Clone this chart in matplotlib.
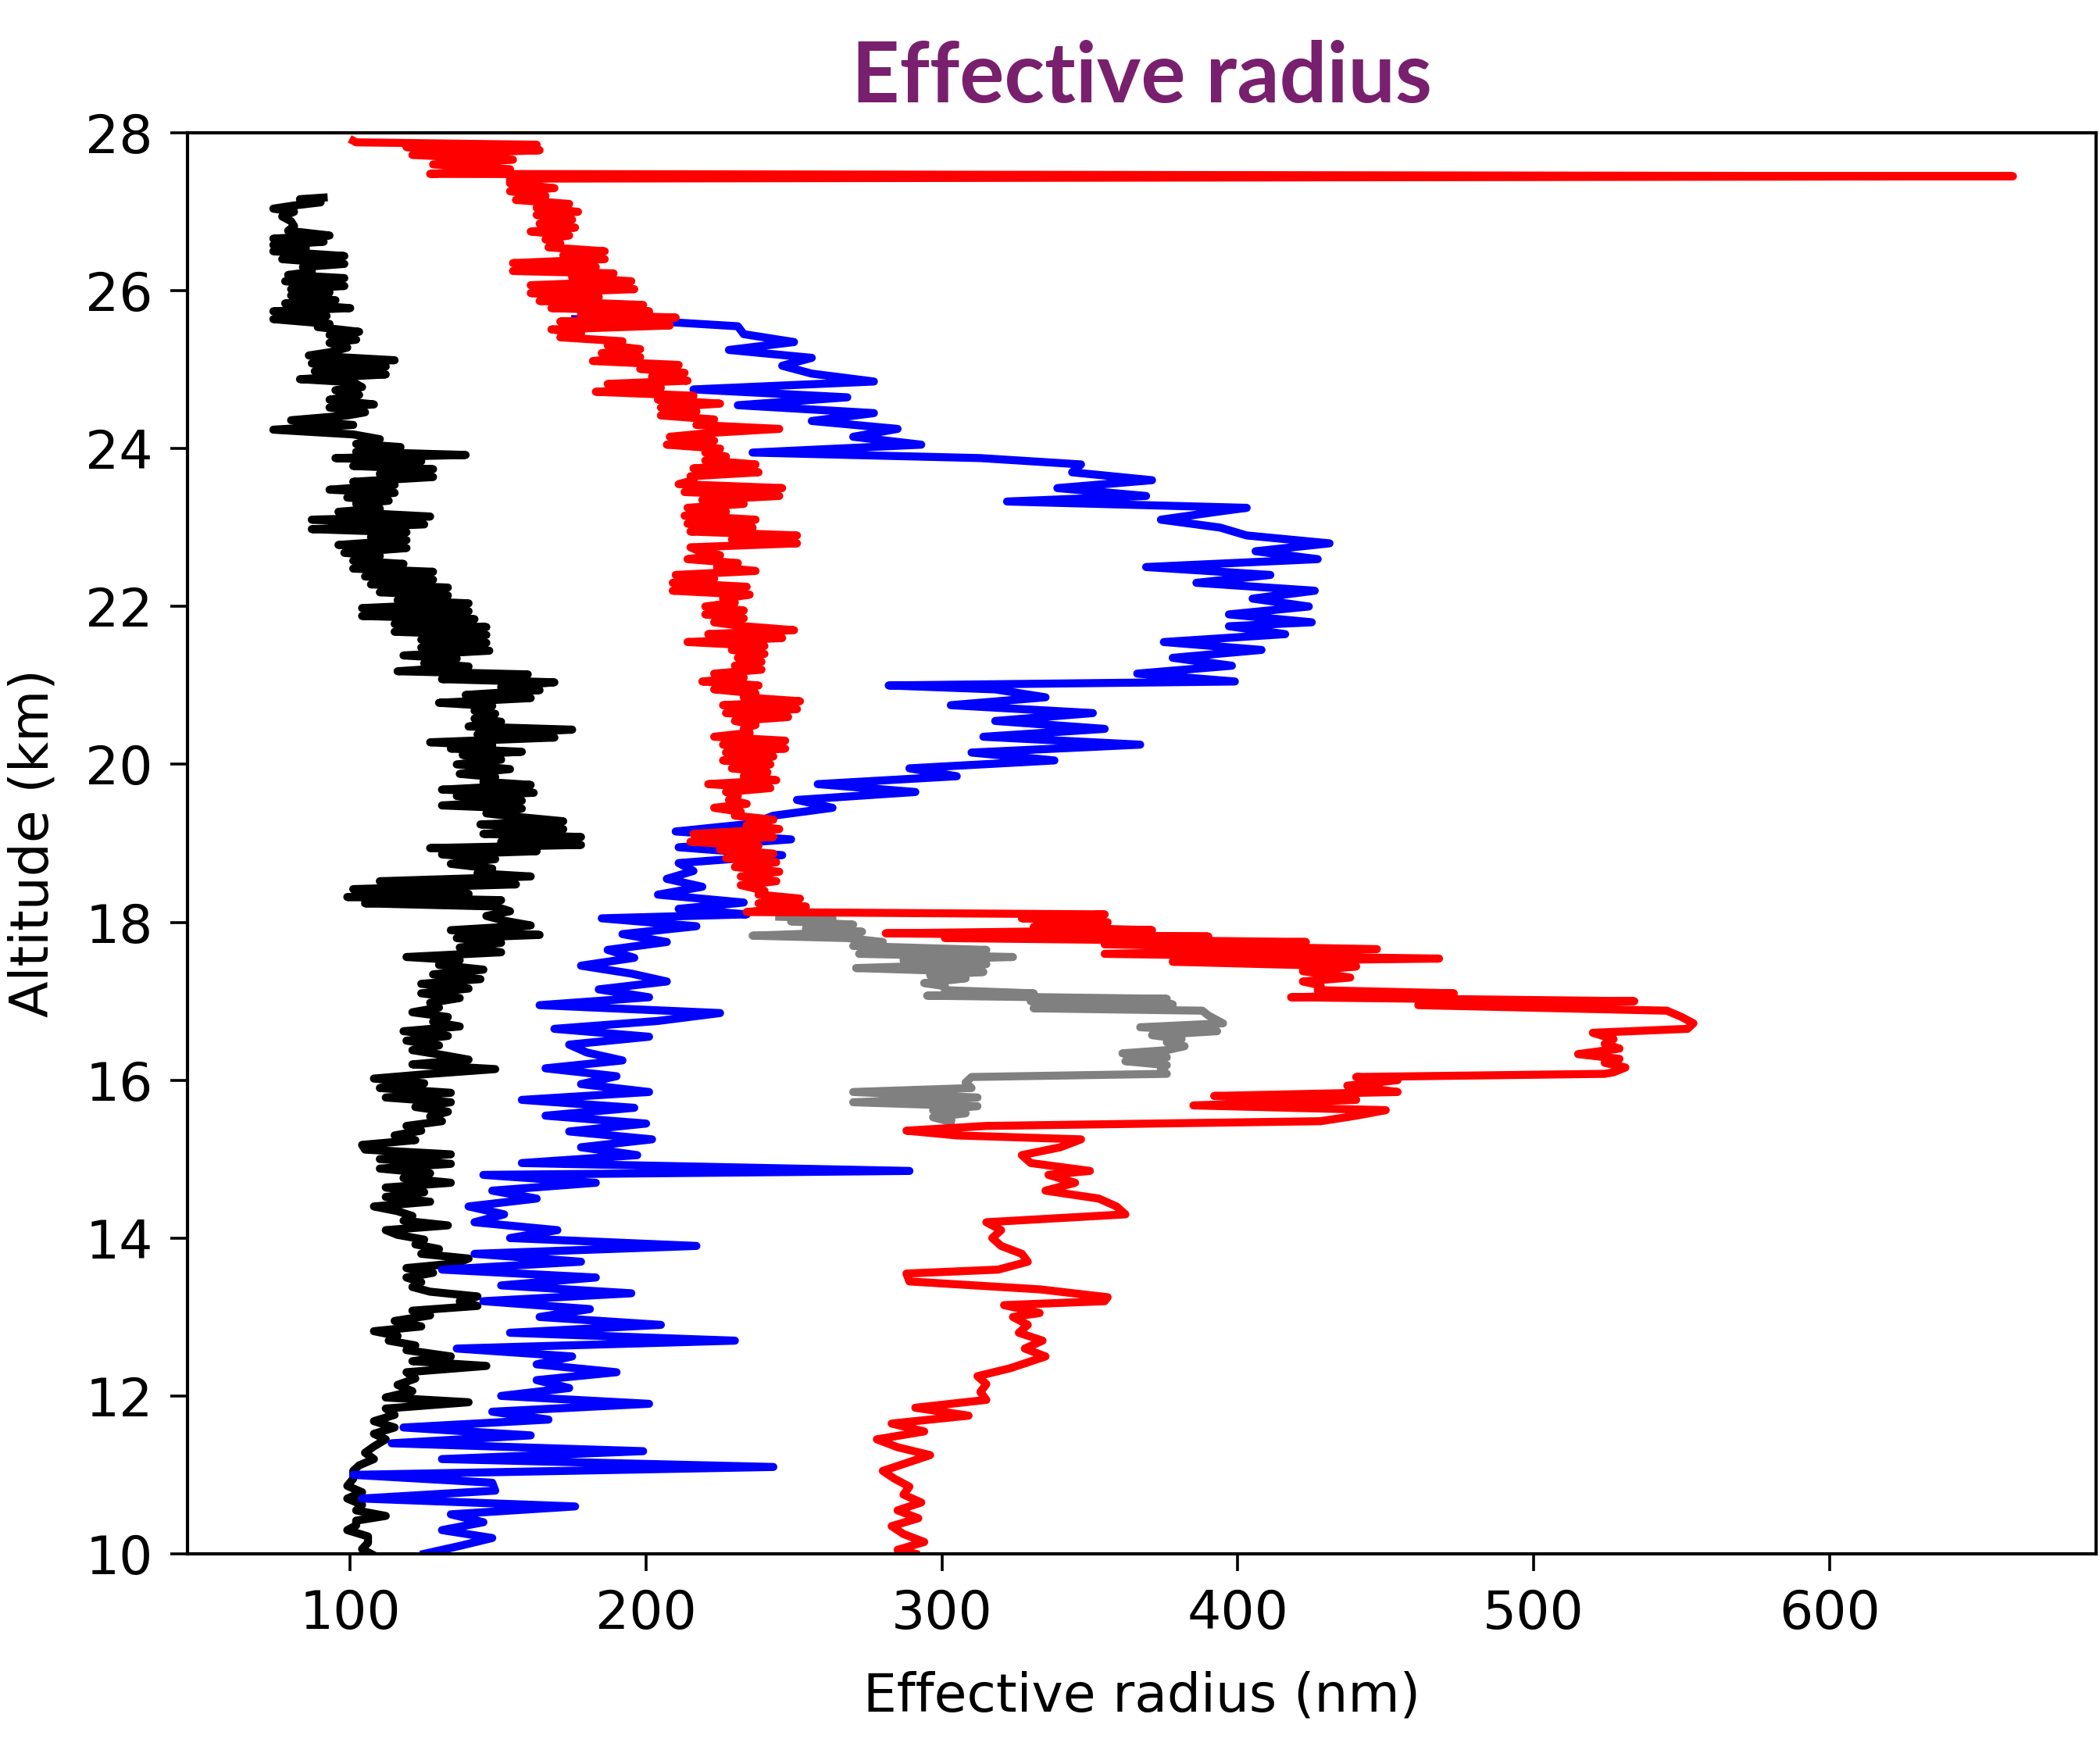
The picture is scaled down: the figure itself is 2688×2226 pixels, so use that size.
import matplotlib
matplotlib.use('Agg')
import matplotlib.pyplot as plt

# altitude (km) and effective radius (nm)
black_alt = [10.0, 10.06, 10.14, 10.22, 10.3, 10.36, 10.42, 10.48, 10.55, 10.62, 10.7, 10.78, 10.86, 10.95,
             11.05, 11.12, 11.2, 11.28, 11.36, 11.45, 11.52, 11.6, 11.68, 11.76, 11.84, 11.92, 11.98,
             12.06, 12.14, 12.22, 12.3, 12.38, 12.44, 12.5, 12.58, 12.64, 12.7, 12.76, 12.82, 12.88, 12.95,
             13.02, 13.08, 13.14, 13.2, 13.26, 13.32, 13.38, 13.44, 13.5, 13.56, 13.62, 13.68, 13.74, 13.8,
             13.86, 13.92, 13.98, 14.04, 14.1, 14.16, 14.22, 14.28, 14.34, 14.4, 14.46, 14.52, 14.58, 14.64,
             14.7, 14.76, 14.82, 14.88, 14.94, 15.0, 15.06, 15.12, 15.18, 15.24, 15.3, 15.36, 15.42, 15.48,
             15.54, 15.6, 15.66, 15.72, 15.78, 15.84, 15.9, 15.96, 16.02, 16.08, 16.14, 16.2, 16.26, 16.32,
             16.38, 16.44, 16.5, 16.56, 16.62, 16.68, 16.74, 16.8, 16.86, 16.92, 16.98, 17.04, 17.1, 17.16,
             17.22, 17.28, 17.34, 17.4, 17.46, 17.52, 17.56, 17.62, 17.68, 17.74, 17.8, 17.84, 17.9, 17.96,
             18.02, 18.08, 18.14, 18.2, 18.24, 18.28, 18.32, 18.36, 18.42, 18.48, 18.52, 18.58, 18.62, 18.68,
             18.74, 18.8, 18.86, 18.9, 18.94, 18.98, 19.02, 19.08, 19.12, 19.18, 19.24, 19.28, 19.34, 19.38,
             19.44, 19.48, 19.54, 19.6, 19.64, 19.68, 19.74, 19.78, 19.84, 19.88, 19.94, 20.0, 20.06, 20.12,
             20.16, 20.2, 20.24, 20.28, 20.34, 20.38, 20.44, 20.48, 20.54, 20.58, 20.64, 20.68, 20.74, 20.78,
             20.84, 20.88, 20.94, 20.98, 21.04, 21.08, 21.14, 21.18, 21.24, 21.28, 21.34, 21.38, 21.44, 21.48,
             21.54, 21.58, 21.64, 21.68, 21.74, 21.78, 21.84, 21.88, 21.94, 21.98, 22.04, 22.08, 22.14, 22.18,
             22.24, 22.28, 22.34, 22.38, 22.44, 22.48, 22.54, 22.58, 22.64, 22.68, 22.74, 22.78, 22.84, 22.88,
             22.94, 22.98, 23.04, 23.1, 23.14, 23.2, 23.24, 23.3, 23.34, 23.38, 23.44, 23.48, 23.54, 23.58,
             23.64, 23.68, 23.74, 23.78, 23.84, 23.88, 23.92, 23.96, 24.02, 24.06, 24.12, 24.18, 24.24, 24.3,
             24.36, 24.42, 24.46, 24.52, 24.56, 24.62, 24.68, 24.74, 24.78, 24.84, 24.88, 24.94, 24.98, 25.04,
             25.08, 25.12, 25.18, 25.22, 25.28, 25.34, 25.38, 25.44, 25.48, 25.54, 25.58, 25.64, 25.68, 25.74,
             25.78, 25.84, 25.88, 25.94, 25.98, 26.02, 26.06, 26.12, 26.16, 26.2, 26.24, 26.3, 26.34, 26.4,
             26.44, 26.5, 26.54, 26.58, 26.62, 26.66, 26.7, 26.76, 26.82, 26.88, 26.94, 27.0, 27.04, 27.08,
             27.12, 27.16, 27.18]
black_r = [107, 104, 106, 106, 99, 102, 102, 112, 102, 104, 99, 104, 99, 101,
           101, 103, 108, 105, 108, 112, 108, 115, 108, 115, 112, 140, 112,
           121, 116, 122, 119, 146, 121, 134, 119, 122, 113, 116, 108, 124, 115,
           127, 121, 143, 137, 143, 127, 121, 124, 119, 128, 119, 136, 140, 124,
           130, 122, 125, 116, 112, 133, 118, 121, 116, 108, 127, 112, 125, 112,
           134, 118, 127, 110, 134, 110, 134, 105, 104, 122, 115, 124, 119, 131,
           127, 133, 122, 134, 112, 134, 110, 125, 108, 127, 149, 121, 140, 131,
           121, 130, 119, 133, 118, 137, 128, 133, 121, 130, 127, 137, 124, 140,
           124, 144, 128, 145, 130, 137, 119, 151, 137, 151, 136, 164, 134, 161,
           152, 146, 154, 149, 105, 151, 99, 140, 101, 156, 110, 161, 143, 148,
           134, 149, 131, 163, 127, 178, 151, 178, 145, 172, 144, 172, 155, 146,
           158, 131, 158, 136, 162, 131, 161, 145, 149, 137, 154, 136, 151, 138,
           158, 134, 148, 127, 169, 143, 175, 140, 151, 142, 149, 142, 148, 130,
           161, 139, 164, 151, 169, 131, 160, 116, 140, 125, 136, 118, 147, 124,
           146, 124, 146, 115, 146, 115, 142, 104, 140, 104, 140, 116, 133, 110,
           133, 107, 128, 105, 128, 101, 118, 101, 110, 98, 119, 96, 119, 107,
           119, 87, 125, 87, 127, 96, 110, 102, 113, 99, 115, 93, 115, 101,
           128, 110, 128, 101, 124, 95, 139, 102, 117, 102, 110, 101, 74, 101,
           80, 99, 105, 93, 108, 93, 103, 95, 104, 101, 83, 112, 88, 112,
           87, 115, 86, 93, 99, 93, 102, 93, 103, 89, 93, 74, 92, 74,
           100, 78, 95, 80, 93, 80, 98, 78, 98, 79, 87, 84, 98, 77,
           98, 74, 85, 74, 91, 74, 93, 79, 81, 80, 77, 81, 74, 81,
           90, 83, 91]

blue_alt = [10.0, 10.1, 10.2, 10.3, 10.4, 10.5, 10.6, 10.7, 10.8, 10.9, 11.0, 11.1, 11.2, 11.3, 11.4,
            11.5, 11.6, 11.7, 11.8, 11.9, 12.0, 12.1, 12.2, 12.3, 12.4, 12.5, 12.6, 12.7, 12.8, 12.9,
            13.0, 13.1, 13.2, 13.3, 13.4, 13.5, 13.6, 13.7, 13.8, 13.9, 14.0, 14.1, 14.2, 14.3, 14.4,
            14.5, 14.6, 14.7, 14.8, 14.85, 14.95, 15.05, 15.15, 15.25, 15.35, 15.45, 15.55, 15.65, 15.75,
            15.85, 15.95, 16.05, 16.15, 16.25, 16.35, 16.45, 16.55, 16.65, 16.75, 16.85, 16.95, 17.05,
            17.15, 17.25, 17.35, 17.45, 17.55, 17.65, 17.75, 17.85, 17.95, 18.05, 18.1, 18.17, 18.25,
            18.35, 18.45, 18.55, 18.65, 18.75, 18.85, 18.95, 19.05, 19.15, 19.25, 19.35, 19.45, 19.55,
            19.65, 19.75, 19.85, 19.95, 20.05, 20.15, 20.25, 20.35, 20.45, 20.55, 20.65, 20.75, 20.85,
            20.95, 21.0, 21.05, 21.15, 21.25, 21.35, 21.45, 21.55, 21.65, 21.75, 21.8, 21.9, 22.0, 22.1,
            22.2, 22.3, 22.4, 22.5, 22.6, 22.7, 22.8, 22.9, 23.0, 23.1, 23.2, 23.25, 23.33, 23.4, 23.5,
            23.6, 23.7, 23.8, 23.88, 23.95, 24.05, 24.15, 24.25, 24.35, 24.45, 24.55, 24.65, 24.75,
            24.85, 24.95, 25.05, 25.15, 25.25, 25.35, 25.45, 25.55, 25.6, 25.64]
blue_r = [125, 137, 148, 131, 145, 134, 176, 104, 149, 148, 101, 243, 131, 199, 114,
          161, 118, 167, 148, 201, 151, 174, 163, 190, 163, 175, 136, 230, 154, 205,
          164, 181, 145, 195, 151, 183, 131, 178, 142, 217, 154, 170, 142, 152, 140,
          163, 148, 183, 145, 289, 158, 197, 178, 202, 174, 200, 166, 196, 158,
          201, 178, 190, 166, 192, 180, 174, 201, 169, 204, 225, 164, 201,
          184, 207, 195, 178, 196, 187, 207, 192, 217, 185, 234, 211, 233,
          204, 219, 207, 216, 211, 246, 211, 249, 210, 236, 243, 263, 251,
          291, 258, 305, 289, 338, 310, 367, 314, 355, 318, 351, 303, 335,
          318, 282, 399, 366, 398, 378, 408, 375, 416, 397, 425, 397, 424, 405,
          426, 386, 411, 369, 427, 406, 431, 403, 394, 374, 393, 403, 322, 369, 339,
          371, 344, 347, 313, 236, 293, 270, 285, 256, 277, 231, 268, 216,
          277, 256, 246, 256, 228, 250, 233, 231, 209, 176]

red_alt = [10.0, 10.05, 10.15, 10.25, 10.35, 10.45, 10.55, 10.65, 10.75, 10.85, 10.95, 11.05, 11.15,
           11.25, 11.35, 11.45, 11.55, 11.65, 11.75, 11.85, 11.95, 12.05, 12.15, 12.25, 12.35, 12.5,
           12.6, 12.7, 12.8, 12.9, 13.0, 13.05, 13.15, 13.2, 13.25, 13.35, 13.45, 13.55, 13.6, 13.7,
           13.8, 13.9, 14.0, 14.1, 14.2, 14.3, 14.4, 14.5, 14.6, 14.7, 14.8, 14.85, 14.95, 15.05, 15.15,
           15.25, 15.3, 15.36, 15.42, 15.48, 15.55, 15.62, 15.68, 15.75, 15.8, 15.85, 15.93, 16.0, 16.04,
           16.08, 16.1, 16.16, 16.22, 16.27, 16.33, 16.4, 16.46, 16.52, 16.6, 16.65, 16.72, 16.8, 16.88,
           16.95, 17.0, 17.05, 17.1, 17.14, 17.2, 17.25, 17.3, 17.38, 17.44, 17.5, 17.54, 17.6, 17.66,
           17.72, 17.75, 17.8, 17.82, 17.86, 17.9, 17.94, 18.0, 18.05, 18.1, 18.13, 18.2, 18.24, 18.3,
           18.35, 18.4, 18.47, 18.52, 18.58, 18.64, 18.7, 18.76, 18.81, 18.87, 18.92, 18.97, 19.02,
           19.08, 19.12, 19.18, 19.23, 19.3, 19.35, 19.4, 19.45, 19.5, 19.55, 19.6, 19.65, 19.7, 19.75,
           19.8, 19.85, 19.9, 19.95, 20.0, 20.05, 20.1, 20.15, 20.2, 20.25, 20.3, 20.35, 20.4, 20.45,
           20.5, 20.55, 20.6, 20.65, 20.7, 20.75, 20.8, 20.85, 20.9, 20.95, 21.0, 21.05, 21.1, 21.15,
           21.2, 21.25, 21.3, 21.35, 21.4, 21.45, 21.5, 21.55, 21.6, 21.65, 21.7, 21.75, 21.8, 21.85,
           21.9, 21.95, 22.0, 22.05, 22.1, 22.15, 22.2, 22.25, 22.3, 22.35, 22.4, 22.45, 22.5, 22.55,
           22.6, 22.65, 22.7, 22.75, 22.8, 22.85, 22.9, 22.95, 23.0, 23.05, 23.1, 23.15, 23.2, 23.25,
           23.3, 23.35, 23.4, 23.45, 23.5, 23.55, 23.6, 23.65, 23.7, 23.75, 23.8, 23.85, 23.9, 23.95,
           24.0, 24.05, 24.1, 24.15, 24.2, 24.25, 24.3, 24.37, 24.42, 24.47, 24.52, 24.57, 24.62, 24.67,
           24.72, 24.77, 24.82, 24.86, 24.91, 24.96, 25.01, 25.06, 25.11, 25.16, 25.21, 25.26, 25.31,
           25.36, 25.41, 25.46, 25.51, 25.56, 25.61, 25.66, 25.7, 25.74, 25.78, 25.82, 25.87, 25.92,
           25.97, 26.02, 26.07, 26.12, 26.17, 26.22, 26.25, 26.3, 26.35, 26.4, 26.45, 26.5, 26.55, 26.6,
           26.65, 26.7, 26.75, 26.8, 26.85, 26.9, 26.96, 27.0, 27.05, 27.1, 27.15, 27.2, 27.26, 27.3,
           27.36, 27.42, 27.45, 27.48, 27.54, 27.6, 27.66, 27.72, 27.78, 27.82, 27.85, 27.88, 27.9]
red_r = [291, 285, 294, 287, 283, 292, 285, 293, 287, 289, 284, 280, 288,
         296, 285, 278, 294, 283, 309, 291, 315, 313, 315, 312, 323, 335,
         328, 334, 326, 329, 324, 333, 321, 355, 356, 333, 289, 288, 319, 329,
         327, 320, 317, 320, 315, 362, 359, 353, 335, 345, 336, 350, 330, 327, 340,
         347, 305, 288, 315, 428, 440, 450, 385, 440, 392, 454, 437, 454, 440,
         524, 527, 531, 524, 529, 515, 529, 524, 527, 520, 552, 554, 550, 545,
         461, 534, 418, 473, 427, 428, 422, 438, 422, 440, 378, 468, 355, 447,
         355, 423, 301, 390, 281, 371, 331, 356, 327, 355, 234, 254, 238, 252,
         238, 240, 232, 244, 232, 245, 230, 244, 227, 243, 225, 238, 215,
         243, 216, 245, 234, 243, 230, 232, 223, 234, 228, 231, 227, 242, 221,
         244, 233, 241, 229, 242, 226, 243, 227, 247, 226, 247, 223, 235, 233,
         237, 230, 248, 227, 251, 226, 252, 233, 237, 223, 238, 219, 233, 223,
         239, 230, 239, 231, 240, 229, 240, 214, 246, 221, 250, 233, 223, 233,
         220, 233, 220, 230, 226, 235, 209, 234, 209, 223, 210, 237, 224, 231,
         214, 225, 218, 215, 251, 229, 251, 215, 236, 214, 237, 213, 227, 214,
         233, 219, 245, 213, 246, 211, 216, 215, 238, 216, 237, 220, 227, 220,
         225, 207, 223, 208, 222, 245, 217, 223, 205, 217, 205, 225, 204, 216,
         183, 205, 187, 214, 202, 213, 198, 211, 182, 198, 185, 198, 187,
         192, 171, 178, 168, 208, 171, 210, 178, 201, 168, 199, 164, 184,
         161, 196, 161, 195, 175, 189, 155, 183, 155, 186, 172, 186, 167, 171,
         166, 174, 161, 176, 164, 175, 163, 177, 163, 174, 156, 166, 154, 169,
         154, 154, 662, 127, 154, 128, 155, 121, 164, 119, 163, 102, 101]

gray_alt = [15.47, 15.53, 15.58, 15.62, 15.67, 15.72, 15.78, 15.85, 15.9, 15.97, 16.04, 16.08, 16.14,
            16.19, 16.24, 16.29, 16.34, 16.38, 16.43, 16.48, 16.52, 16.57, 16.62, 16.67, 16.72, 16.78,
            16.82, 16.88, 16.91, 16.96, 17.0, 17.03, 17.07, 17.1, 17.14, 17.19, 17.23, 17.29, 17.33,
            17.37, 17.42, 17.47, 17.52, 17.56, 17.6, 17.65, 17.7, 17.75, 17.8, 17.83, 17.88, 17.92,
            17.97, 18.01, 18.05, 18.07]
gray_r = [303, 297, 308, 297, 312, 270, 312, 270, 310, 308, 310, 376, 374,
          376, 362, 376, 361, 376, 382, 376, 381, 371, 393, 367, 395, 392,
          390, 388, 331, 378, 330, 376, 295, 331, 301, 301, 294, 308, 296,
          314, 271, 315, 287, 324, 272, 315, 270, 280, 268, 236, 273, 254,
          270, 249, 263, 245]

x_ticks = [100, 200, 300, 400, 500, 600]
y_ticks = [10, 12, 14, 16, 18, 20, 22, 24, 26, 28]

fig = plt.figure(figsize=(13.44, 11.13), dpi=200)
ax = fig.add_axes([0.0893, 0.1065, 0.9087, 0.8171])

lw = 3.7
ax.plot(black_r, black_alt, color='black', lw=lw)
ax.plot(blue_r, blue_alt, color='blue', lw=lw)
ax.plot(gray_r, gray_alt, color='gray', lw=lw)
ax.plot(red_r, red_alt, color='red', lw=lw)

ax.set_xlim(45, 690)
ax.set_ylim(10, 28)
ax.set_xticks(x_ticks)
ax.set_yticks(y_ticks)
ax.tick_params(labelsize=24.5, length=8, width=1.3, pad=8)
for sp in ax.spines.values():
    sp.set_linewidth(1.5)

ax.set_xlabel('Effective radius (nm)', fontsize=24.5, labelpad=14)
ax.set_ylabel('Altitude (km)', fontsize=24.5, labelpad=12)
ax.set_title('Effective radius', fontsize=38.5, fontweight='bold', color='#78206E',
             family='Lato', pad=14)

fig.savefig('out.png', dpi=200)
